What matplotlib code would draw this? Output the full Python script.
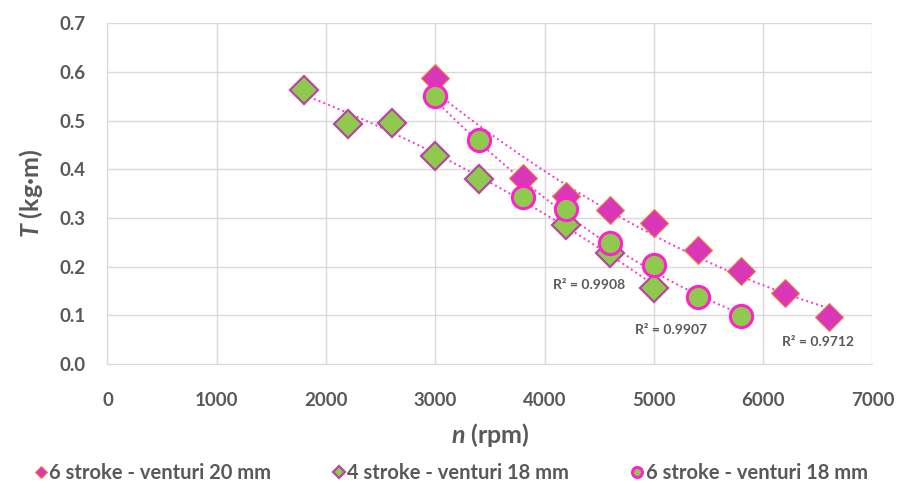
import numpy as np
import matplotlib.pyplot as plt

plt.rcParams['font.family'] = ['Lato', 'DejaVu Sans']
plt.rcParams['mathtext.fontset'] = 'custom'
plt.rcParams['mathtext.it'] = 'Lato:italic:bold'
plt.rcParams['mathtext.rm'] = 'Lato:bold'

# 6 stroke - venturi 20 mm
n_6s20 = [3000, 3800, 4200, 4600, 5000, 5400, 5800, 6200, 6600]
T_6s20 = [0.587, 0.382, 0.345, 0.317, 0.290, 0.235, 0.192, 0.147, 0.096]

# 4 stroke - venturi 18 mm
n_4s18 = [1800, 2200, 2600, 3000, 3400, 4200, 4600, 5000]
T_4s18 = [0.562, 0.493, 0.495, 0.427, 0.380, 0.286, 0.229, 0.157]

# 6 stroke - venturi 18 mm
n_6s18 = [3000, 3400, 3800, 4200, 4600, 5000, 5400, 5800]
T_6s18 = [0.550, 0.460, 0.344, 0.319, 0.249, 0.204, 0.139, 0.098]

r2_labels = ['R² = 0.9712', 'R² = 0.9908', 'R² = 0.9907']

grey = '#595959'
trend = '#ff33cc'

fig = plt.figure(figsize=(9, 4.84), dpi=100)
ax = fig.add_axes([0.1194, 0.2475, 0.85, 0.7045])

def tendencia(x, y):
    c = np.polyfit(x, y, 2)
    xs = np.linspace(min(x), max(x), 100)
    ax.plot(xs, np.polyval(c, xs), ':', color=trend, lw=1.4, zorder=2)

tendencia(n_6s20, T_6s20)
tendencia(n_4s18, T_4s18)
tendencia(n_6s18, T_6s18)

ax.plot(n_6s20, T_6s20, 'D', ms=14, mfc='#d936b8', mec='#f08040', mew=0.8,
        ls='none', zorder=3, label='6 stroke - venturi 20 mm')
ax.plot(n_4s18, T_4s18, 'D', ms=14, mfc='#8fc94e', mec='#b4489f', mew=1.6,
        ls='none', zorder=4, label='4 stroke - venturi 18 mm')
ax.plot(n_6s18, T_6s18, 'o', ms=16, mfc='#8fc94e', mec='#ff22cc', mew=2.2,
        ls='none', zorder=5, label='6 stroke - venturi 18 mm')

ax.text(6170, 0.038, r2_labels[0], fontsize=10, color=grey, fontweight='bold')
ax.text(4080, 0.155, r2_labels[1], fontsize=10, color=grey, fontweight='bold')
ax.text(4830, 0.062, r2_labels[2], fontsize=10, color=grey, fontweight='bold')

ax.set_xlim(0, 7000)
ax.set_ylim(0, 0.7)
ax.set_xticks(range(0, 7001, 1000))
ax.set_yticks(np.arange(0, 0.71, 0.1))
ax.set_yticklabels(['%.1f' % v for v in np.arange(0, 0.71, 0.1)])
ax.grid(True, color='#d9d9d9', lw=1)
ax.set_axisbelow(True)
for s in ['top', 'right']:
    ax.spines[s].set_visible(False)
for s in ['left', 'bottom']:
    ax.spines[s].set_color('#d9d9d9')
ax.tick_params(length=0, labelsize=13.5, labelcolor=grey)
ax.tick_params(axis='x', pad=20)
ax.tick_params(axis='y', pad=16)
for lb in ax.get_xticklabels() + ax.get_yticklabels():
    lb.set_fontweight('bold')

ax.set_xlabel(r'$\mathit{n}$ (rpm)', fontsize=18, color=grey, fontweight='bold', labelpad=9)
ax.set_ylabel(r'$\mathit{T}$ (kg·m)', fontsize=18, color=grey, fontweight='bold', labelpad=10)

leg = fig.legend(loc='lower center', bbox_to_anchor=(0.5, -0.035), ncol=3, frameon=False,
                 fontsize=14.5, markerscale=0.45, handletextpad=0.0, columnspacing=3.0,
                 handlelength=0.8)
for t in leg.get_texts():
    t.set_color(grey)
    t.set_fontweight('bold')

fig.savefig('out.png', dpi=100)
